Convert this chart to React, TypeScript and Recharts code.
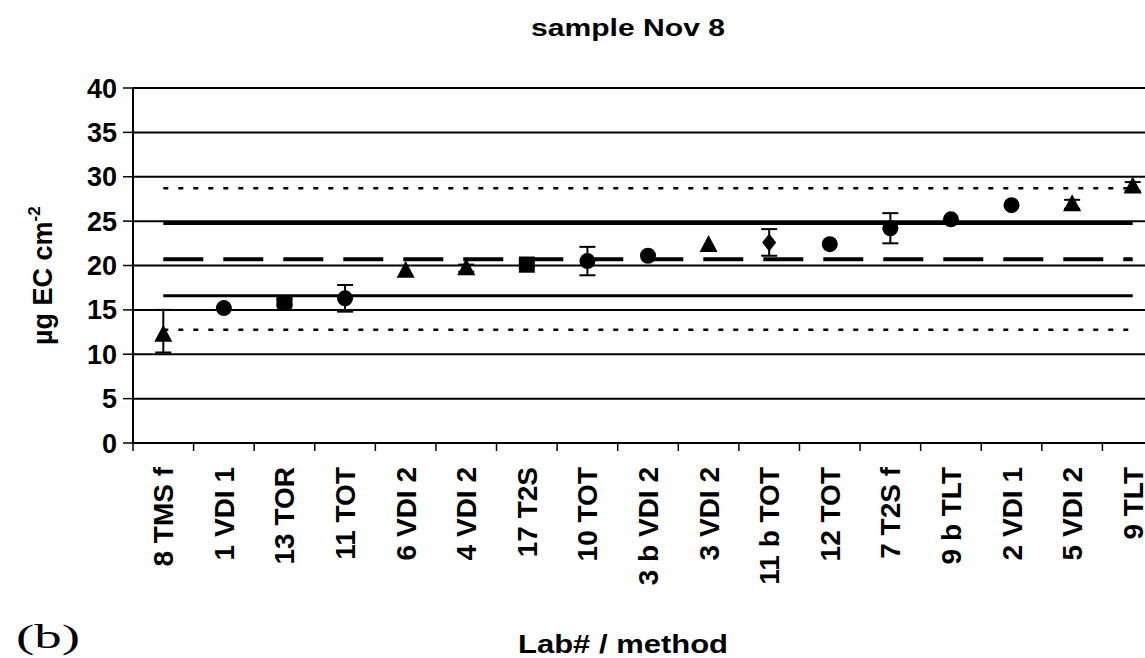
import React from 'react';
import {
  ComposedChart,
  Scatter,
  XAxis,
  YAxis,
  CartesianGrid,
  ErrorBar,
  ReferenceLine,
} from 'recharts';

// lab / method, sorted by result
const labs = [
  '8 TMS f', '1 VDI 1', '13 TOR', '11 TOT', '6 VDI 2', '4 VDI 2', '17 T2S', '10 TOT', '3 b VDI 2',
  '3 VDI 2', '11 b TOT', '12 TOT', '7 T2S f', '9 b TLT', '2 VDI 1', '5 VDI 2', '9 TLT',
];
const ecValues = [12.2, 15.2, 15.9, 16.3, 19.4, 19.7, 20.1, 20.5, 21.1, 22.3, 22.6, 22.4, 24.2, 25.2, 26.8, 26.9, 28.9];
const ecErrors: (number | number[])[] = [
  [2.0, 2.8], 0, 0.3, 1.5, 0, 0.4, 0.8, 1.6, 0, 0, 1.5, 0, 1.7, 0, 0, 0.5, 0.5,
];
const markers = [
  'triangle', 'circle', 'square', 'circle', 'triangle', 'triangle', 'square', 'circle', 'circle',
  'triangle', 'diamond', 'circle', 'circle', 'circle', 'circle', 'triangle', 'triangle',
];
const yTicks = [0, 5, 10, 15, 20, 25, 30, 35, 40];

// assigned value and the two tolerance bands
const meanValue = 20.7;
const innerLimits = [16.6, 24.8];
const outerLimits = [12.75, 28.7];

const CHART_W = 1165;
const CHART_H = 658;
const LEFT = 133;
const RIGHT = 2;
const BAND = (CHART_W - LEFT - RIGHT) / labs.length;
const FONT = '"Liberation Sans", Arial, sans-serif';

const data = labs.map((lab, i) => ({
  lab,
  ec: ecValues[i],
  err: ecErrors[i],
  marker: markers[i],
}));

function MarkerShape(props: any) {
  const { cx, cy, payload } = props;
  if (cx == null || cy == null) return null;
  switch (payload.marker) {
    case 'triangle':
      return <polygon points={`${cx},${cy - 10} ${cx - 9},${cy + 7} ${cx + 9},${cy + 7}`} fill="#000" />;
    case 'square':
      return <rect x={cx - 8} y={cy - 7} width={16} height={14} rx={2} fill="#000" />;
    case 'diamond':
      return <polygon points={`${cx},${cy - 9} ${cx + 7},${cy} ${cx},${cy + 9} ${cx - 7},${cy}`} fill="#000" />;
    default:
      return <circle cx={cx} cy={cy} r={8} fill="#000" />;
  }
}

function LabTick(props: any) {
  const { x, y, payload } = props;
  const left = x - BAND / 2;
  return (
    <g>
      <line x1={left} y1={y - 8} x2={left} y2={y} stroke="#000" strokeWidth={1.5} />
      <text
        transform={`translate(${x + 10},${y + 16}) rotate(-90)`}
        textAnchor="end"
        fontFamily={FONT}
        fontWeight="bold"
        fontSize={28}
        fill="#000"
      >
        {payload.value}
      </text>
    </g>
  );
}

export default function App() {
  const first = labs[0];
  const last = labs[labs.length - 1];
  return (
    <div
      style={{
        position: 'absolute',
        left: 0,
        top: 0,
        width: 1145,
        height: 658,
        overflow: 'hidden',
        background: '#fff',
      }}
    >
      <ComposedChart
        width={CHART_W}
        height={CHART_H}
        data={data}
        margin={{ top: 88, right: RIGHT, bottom: 0, left: 0 }}
      >
        <CartesianGrid horizontal vertical={false} stroke="#000" strokeWidth={2} />
        <XAxis
          dataKey="lab"
          type="category"
          height={215}
          interval={0}
          padding={{ left: BAND / 2, right: BAND / 2 }}
          axisLine={{ stroke: '#000', strokeWidth: 2 }}
          tickLine={false}
          tick={<LabTick />}
        />
        <YAxis
          type="number"
          domain={[0, 40]}
          ticks={yTicks}
          width={LEFT}
          tickSize={10}
          tickMargin={6}
          axisLine={{ stroke: '#000', strokeWidth: 2 }}
          tickLine={{ stroke: '#000', strokeWidth: 1.5 }}
          tick={{ fill: '#000', fontSize: 27, fontWeight: 'bold', fontFamily: FONT }}
        />
        <ReferenceLine
          segment={[{ x: first, y: outerLimits[1] }, { x: last, y: outerLimits[1] }]}
          stroke="#000"
          strokeWidth={2.5}
          strokeDasharray="5 10"
        />
        <ReferenceLine
          segment={[{ x: first, y: innerLimits[1] }, { x: last, y: innerLimits[1] }]}
          stroke="#000"
          strokeWidth={4}
        />
        <ReferenceLine
          segment={[{ x: first, y: meanValue }, { x: last, y: meanValue }]}
          stroke="#000"
          strokeWidth={4}
          strokeDasharray="40 20"
        />
        <ReferenceLine
          segment={[{ x: first, y: innerLimits[0] }, { x: last, y: innerLimits[0] }]}
          stroke="#000"
          strokeWidth={3}
        />
        <ReferenceLine
          segment={[{ x: first, y: outerLimits[0] }, { x: last, y: outerLimits[0] }]}
          stroke="#000"
          strokeWidth={2.5}
          strokeDasharray="5 10"
        />
        <Scatter dataKey="ec" shape={<MarkerShape />} isAnimationActive={false}>
          <ErrorBar dataKey="err" direction="y" width={8} stroke="#000" strokeWidth={2} />
        </Scatter>
      </ComposedChart>
      <svg
        width={1145}
        height={658}
        style={{ position: 'absolute', left: 0, top: 0, pointerEvents: 'none' }}
      >
        <text
          x={531}
          y={36}
          fontFamily={FONT}
          fontWeight="bold"
          fontSize={23}
          textLength={194}
          lengthAdjust="spacingAndGlyphs"
        >
          sample Nov 8
        </text>
        <text
          transform="translate(52,345) rotate(-90)"
          fontFamily={FONT}
          fontWeight="bold"
          fontSize={27}
        >
          µg EC cm
          <tspan dy={-12} fontSize={17}>
            -2
          </tspan>
        </text>
        <text
          x={16}
          y={648}
          fontFamily='"Liberation Serif", "Times New Roman", serif'
          fontSize={34}
          textLength={64}
          lengthAdjust="spacingAndGlyphs"
        >
          (b)
        </text>
        <text
          x={518}
          y={653}
          fontFamily={FONT}
          fontWeight="bold"
          fontSize={25}
          textLength={210}
          lengthAdjust="spacingAndGlyphs"
        >
          Lab# / method
        </text>
      </svg>
    </div>
  );
}
